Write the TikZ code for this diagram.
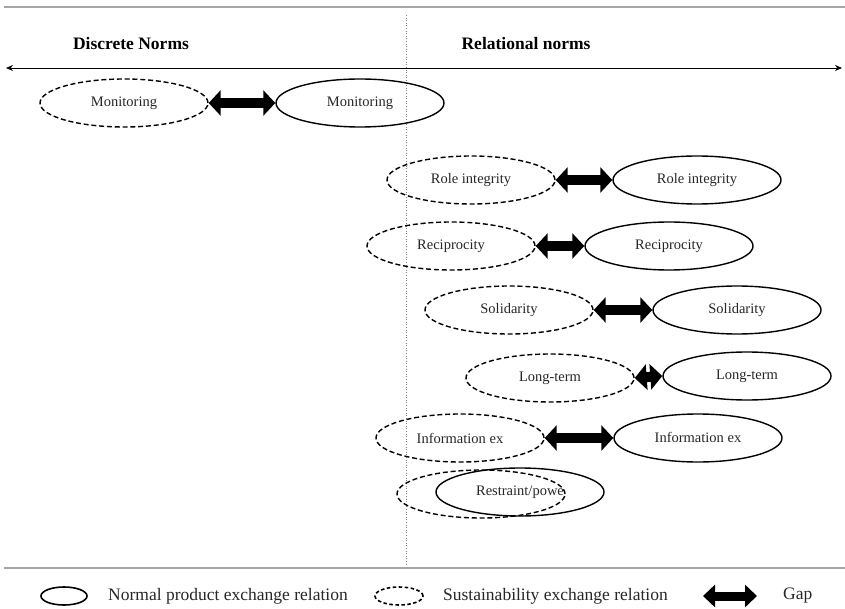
\documentclass[tikz,border=0pt]{standalone}
\usepackage{fontspec}
\setmainfont{Liberation Serif}
\usetikzlibrary{shapes.geometric,arrows.meta}
\begin{document}
\begin{tikzpicture}[x=1pt,y=-1pt,
  norm/.style={ellipse,draw,line width=1.4pt,minimum width=168pt,minimum height=48pt,inner sep=0pt,
    text=black!85,font=\fontsize{14.5}{16}\selectfont},
  sust/.style={norm,dashed,dash pattern=on 5pt off 2.8pt},
  gap/.style={line width=10pt,{Triangle[width=25pt,length=12pt]}-{Triangle[width=25pt,length=12pt]}},
  head/.style={font=\bfseries\fontsize{17.5}{20}\selectfont},
  legend/.style={font=\fontsize{17.5}{20}\selectfont,anchor=west,inner sep=0pt,text=black!85}]
\useasboundingbox (0,0) rectangle (845,609);
% frame lines and divider
\draw[gray!70,line width=1.6pt] (4,7) -- (845,7);
\draw[gray!70,line width=1.6pt] (4,568) -- (845,568);
\draw[gray,dotted,line width=0.6pt] (406,15) -- (406,566);
% continuum axis
\coordinate (axL) at (6,68);
\coordinate (axR) at (842,68);
\draw[line width=0.8pt,{Stealth[length=7pt,width=6pt]}-{Stealth[length=7pt,width=6pt]}] (axL) -- (axR);
\node[head] (hd) at (131,44) {Discrete Norms};
\node[head] (hr) at (526,44) {Relational norms};
% norm pairs
\node[sust] (d1) at (124,103) {Monitoring};
\node[norm] (s1) at (360,103) {Monitoring};
\node[sust] (d2) at (471,180) {Role integrity};
\node[norm] (s2) at (697,180) {\raisebox{1pt}{Role integrity}};
\node[sust] (d3) at (451,246) {Reciprocity};
\node[norm] (s3) at (669,246) {Reciprocity};
\node[sust] (d4) at (509,310) {Solidarity};
\node[norm] (s4) at (737,310) {Solidarity};
\node[sust] (d5) at (550,378) {Long-term};
\node[norm] (s5) at (747,376) {\raisebox{2pt}{Long-term}};
\node[sust] (d6) at (460,438) {Information ex};
\node[norm] (s6) at (698,438) {\raisebox{1pt}{Information ex}};
\node[sust] (d7) at (481,494) {};
\node[norm] (s7) at (520,492) {Restraint/powe};
\foreach \i in {1,...,6} \draw[gap] (d\i.east) -- (s\i.west);
% legend
\node[norm,line width=1.6pt,minimum width=46pt,minimum height=18pt] (l1) at (64,596) {};
\node[legend] (t1) at (108,596) {Normal product exchange relation};
\node[sust,line width=1.6pt,minimum width=48pt,minimum height=18pt,dash pattern=on 3.5pt off 2.5pt] (l2) at (399,596) {};
\node[legend] (t2) at (443,596) {Sustainability exchange relation};
\coordinate (g1) at (703,596);
\coordinate (g2) at (757,596);
\draw[line width=9pt,{Triangle[width=22pt,length=12pt]}-{Triangle[width=22pt,length=12pt]}] (g1) -- (g2);
\node[legend] (t3) at (783,596) {Gap};
\end{tikzpicture}
\end{document}
